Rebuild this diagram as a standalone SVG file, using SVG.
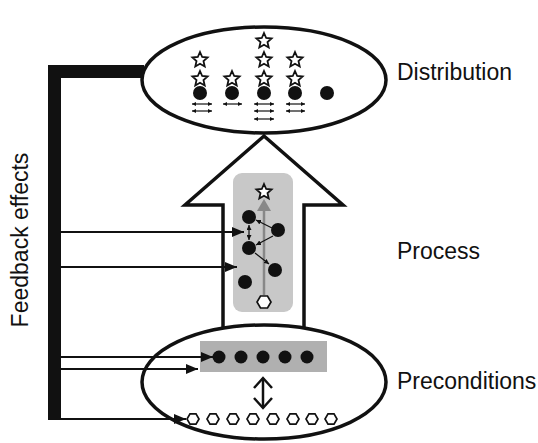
<svg xmlns="http://www.w3.org/2000/svg" width="538" height="443" viewBox="0 0 538 443">
<defs>
<style>
.lbl{font-family:"Liberation Sans",Arial,sans-serif;font-size:23px;fill:#111}
.ell{fill:#fff;stroke:#111;stroke-width:3.5}
.dot{fill:#111}
.star{fill:#fff;stroke:#111;stroke-width:1.8;stroke-linejoin:miter}
.hex{fill:#fff;stroke:#111;stroke-width:1.7}
.fb{stroke:#111;stroke-width:2;fill:none}
.sm{stroke:#111;stroke-width:1.2;fill:none}
</style>
<marker id="ah" markerUnits="userSpaceOnUse" markerWidth="12" markerHeight="10" refX="12" refY="5" orient="auto"><path d="M0,0 L12,5 L0,10 z" fill="#111"/></marker>
<marker id="sa" markerUnits="userSpaceOnUse" markerWidth="4" markerHeight="4" refX="4" refY="2" orient="auto-start-reverse"><path d="M0,0 L4,2 L0,4 z" fill="#111"/></marker>
<marker id="pa" markerUnits="userSpaceOnUse" markerWidth="5" markerHeight="5" refX="5" refY="2.5" orient="auto-start-reverse"><path d="M0,0 L5,2.5 L0,5 z" fill="#111"/></marker>
<path id="st" d="M0,-8 L2.2,-3 L7.6,-2.47 L3.5,1.13 L4.7,6.47 L0,3.7 L-4.7,6.47 L-3.5,1.13 L-7.6,-2.47 L-2.2,-3 Z"/>
<path id="hx" d="M6,0 L3,5.1 L-3,5.1 L-6,0 L-3,-5.1 L3,-5.1 Z"/>
<path id="hx2" d="M7,0 L3.5,6 L-3.5,6 L-7,0 L-3.5,-6 L3.5,-6 Z"/>
</defs>

<g id="process">
<polygon points="264,136 343,205 304,205 304,335 223,335 223,205 185,205" fill="#fff" stroke="#111" stroke-width="3.5" stroke-linejoin="miter"/>
<rect x="233" y="173" width="60" height="139" rx="9" fill="#c8c8c8"/>
<line x1="264" y1="295" x2="264" y2="209" stroke="#888" stroke-width="2.5"/>
<path d="M257,211 L264,199 L271,211 Z" fill="#888"/>
<use href="#st" class="star" x="264" y="192"/>
<use href="#hx2" class="hex" x="264" y="302"/>
<circle class="dot" cx="249" cy="217" r="7"/>
<circle class="dot" cx="278" cy="230" r="7"/>
<circle class="dot" cx="249" cy="248" r="7"/>
<circle class="dot" cx="275" cy="270" r="7"/>
<circle class="dot" cx="245" cy="282" r="7"/>
<line class="sm" x1="249" y1="225" x2="249" y2="240" marker-start="url(#pa)" marker-end="url(#pa)"/>
<line class="sm" x1="272" y1="228" x2="256" y2="220" marker-end="url(#pa)"/>
<line class="sm" x1="273" y1="236" x2="256" y2="245" marker-end="url(#pa)"/>
<line class="sm" x1="255" y1="253" x2="269" y2="264" marker-end="url(#pa)"/>
<text class="lbl" x="397" y="259">Process</text>
</g>

<g id="distribution">
<ellipse class="ell" cx="264" cy="80" rx="122" ry="53"/>
<use href="#st" class="star" x="200" y="60"/>
<use href="#st" class="star" x="200" y="79"/>
<use href="#st" class="star" x="232" y="79"/>
<use href="#st" class="star" x="264" y="41"/>
<use href="#st" class="star" x="264" y="60"/>
<use href="#st" class="star" x="264" y="79"/>
<use href="#st" class="star" x="295" y="60"/>
<use href="#st" class="star" x="295" y="79"/>
<circle class="dot" cx="200" cy="93" r="7"/>
<circle class="dot" cx="232" cy="93" r="7"/>
<circle class="dot" cx="264" cy="93" r="7"/>
<circle class="dot" cx="295" cy="93" r="7"/>
<circle class="dot" cx="327" cy="93" r="7"/>
<g class="sm">
<line x1="192" y1="104" x2="212" y2="104" marker-start="url(#sa)" marker-end="url(#sa)"/>
<line x1="192" y1="111" x2="212" y2="111" marker-start="url(#sa)" marker-end="url(#sa)"/>
<line x1="223" y1="104" x2="242" y2="104" marker-start="url(#sa)" marker-end="url(#sa)"/>
<line x1="254" y1="104" x2="274" y2="104" marker-start="url(#sa)" marker-end="url(#sa)"/>
<line x1="254" y1="111" x2="274" y2="111" marker-start="url(#sa)" marker-end="url(#sa)"/>
<line x1="254" y1="119" x2="274" y2="119" marker-start="url(#sa)" marker-end="url(#sa)"/>
<line x1="286" y1="104" x2="305" y2="104" marker-start="url(#sa)" marker-end="url(#sa)"/>
<line x1="286" y1="111" x2="305" y2="111" marker-start="url(#sa)" marker-end="url(#sa)"/>
</g>
<text class="lbl" x="397" y="80">Distribution</text>
</g>

<g id="preconditions">
<ellipse class="ell" cx="264" cy="382" rx="122" ry="57"/>
<rect x="200" y="341" width="127" height="31" fill="#b0b0b0"/>
<circle class="dot" cx="219" cy="357" r="6.5"/>
<circle class="dot" cx="241" cy="357" r="6.5"/>
<circle class="dot" cx="263" cy="357" r="6.5"/>
<circle class="dot" cx="285" cy="357" r="6.5"/>
<circle class="dot" cx="307" cy="357" r="6.5"/>
<g stroke="#111" stroke-width="2.5" fill="none">
<line x1="263" y1="378" x2="263" y2="408"/>
<polyline points="254,388 263,378 272,388"/>
<polyline points="254,398 263,408 272,398"/>
</g>
<use href="#hx" class="hex" x="193" y="419"/>
<use href="#hx" class="hex" x="213" y="419"/>
<use href="#hx" class="hex" x="233" y="419"/>
<use href="#hx" class="hex" x="253" y="419"/>
<use href="#hx" class="hex" x="273" y="419"/>
<use href="#hx" class="hex" x="293" y="419"/>
<use href="#hx" class="hex" x="312" y="419"/>
<use href="#hx" class="hex" x="331" y="419"/>
<text class="lbl" x="397" y="389">Preconditions</text>
</g>

<g id="feedback">
<rect x="48" y="65" width="96" height="13" fill="#111"/>
<rect x="48" y="65" width="13" height="355" fill="#111"/>
<text class="lbl" transform="translate(28,240) rotate(-90)" text-anchor="middle">Feedback effects</text>
</g>

<g id="connectors">
<line class="fb" x1="61" y1="232" x2="244" y2="232" marker-end="url(#ah)"/>
<line class="fb" x1="61" y1="267" x2="237" y2="267" marker-end="url(#ah)"/>
<line class="fb" x1="61" y1="357" x2="213" y2="357" marker-end="url(#ah)"/>
<line class="fb" x1="61" y1="369" x2="198" y2="369" marker-end="url(#ah)"/>
<line class="fb" x1="61" y1="419" x2="186" y2="419" marker-end="url(#ah)"/>
</g>
</svg>
